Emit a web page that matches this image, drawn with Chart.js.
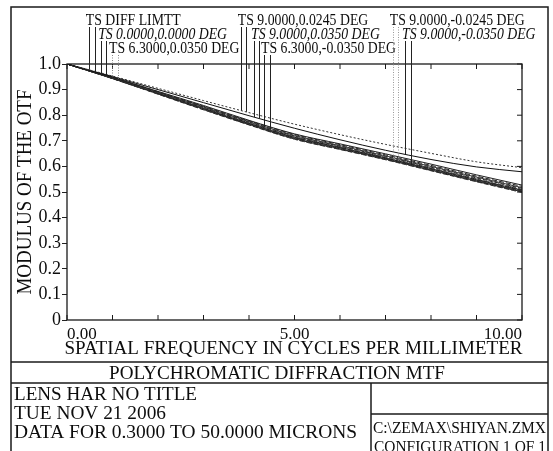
<!DOCTYPE html>
<html>
<head>
<meta charset="utf-8">
<script src="https://cdn.jsdelivr.net/npm/chart.js@4.4.0/dist/chart.umd.min.js"></script>
<style>
  html, body { margin: 0; padding: 0; background: #fff; }
  canvas { display: block; }
</style>
</head>
<body>
<canvas id="mtf" width="553" height="451"></canvas>
<script>
// spatial frequency samples (cycles/mm)
const freq = [0, 1, 2, 3, 4, 5, 6, 7, 8, 9, 10];
const yTicks = [0, 0.1, 0.2, 0.3, 0.4, 0.5, 0.6, 0.7, 0.8, 0.9, 1.0];
const xLabelled = [0, 5, 10];

// MTF values
const diffT = [1, 0.953, 0.905, 0.857, 0.810, 0.765, 0.724, 0.686, 0.651, 0.618, 0.595];
const diffS = [1, 0.951, 0.900, 0.849, 0.798, 0.749, 0.704, 0.663, 0.627, 0.598, 0.579];
const f0T = [1, 0.948, 0.893, 0.838, 0.780, 0.727, 0.688, 0.649, 0.609, 0.567, 0.527];
const f0S = [1, 0.948, 0.892, 0.835, 0.778, 0.725, 0.685, 0.645, 0.604, 0.562, 0.522];
const f1T = [1, 0.947, 0.890, 0.833, 0.775, 0.721, 0.681, 0.641, 0.600, 0.558, 0.517];
const f1S = [1, 0.946, 0.889, 0.831, 0.773, 0.719, 0.679, 0.639, 0.597, 0.555, 0.514];
const f2T = [1, 0.946, 0.888, 0.829, 0.771, 0.717, 0.677, 0.636, 0.594, 0.552, 0.511];
const f2S = [1, 0.945, 0.887, 0.828, 0.770, 0.715, 0.675, 0.635, 0.593, 0.550, 0.509];
const f3T = [1, 0.945, 0.886, 0.827, 0.768, 0.714, 0.674, 0.633, 0.591, 0.548, 0.507];
const f3S = [1, 0.944, 0.885, 0.826, 0.767, 0.712, 0.672, 0.632, 0.589, 0.546, 0.505];
const f4T = [1, 0.944, 0.885, 0.825, 0.766, 0.711, 0.671, 0.631, 0.588, 0.545, 0.504];
const f4S = [1, 0.944, 0.884, 0.824, 0.765, 0.710, 0.670, 0.630, 0.587, 0.544, 0.503];
const f5T = [1, 0.944, 0.884, 0.824, 0.764, 0.709, 0.669, 0.629, 0.586, 0.543, 0.502];
const f5S = [1, 0.943, 0.883, 0.823, 0.764, 0.708, 0.668, 0.628, 0.585, 0.542, 0.501];
const f6T = [1, 0.943, 0.883, 0.822, 0.763, 0.707, 0.667, 0.627, 0.584, 0.541, 0.500];
const f6S = [1, 0.943, 0.882, 0.821, 0.762, 0.706, 0.666, 0.626, 0.583, 0.540, 0.498];

const fieldNames = [
  "TS DIFF LIMTT",
  "TS 0.0000,0.0000 DEG",
  "TS 6.3000,0.0350 DEG",
  "TS 9.0000,0.0245 DEG",
  "TS 9.0000,0.0350 DEG",
  "TS 6.3000,-0.0350 DEG",
  "TS 9.0000,-0.0245 DEG",
  "TS 9.0000,-0.0350 DEG"
];
// frequency where each label's two leaders meet a curve, and which curve
const leaderT = [0.48, 0.75, 0.99, 3.82, 4.11, 4.33, 7.16, 7.43];
const leaderS = [0.62, 0.86, 1.12, 3.93, 4.22, 4.46, 7.27, 7.56];
const leaderCurveT = [0, 2, 4, 0, 1, 6, 8, 1];
const leaderCurveS = [1, 3, 5, 0, 1, 7, 9, 12];

const curves = [diffT, diffS, f0T, f0S, f1T, f1S, f2T, f2S, f3T, f3S, f4T, f4S, f5T, f5S, f6T, f6S];

// --- styles ---
const SERIF = '"Liberation Serif", "Times New Roman", serif';
const INK = "#0d0d0d";
const curveDash = [[2,2], [], [], [5,2], [], [4,2], [2,2], [5,2], [], [4,2], [1,2], [5,2], [], [3,2], [2,2], [5,2]];
const curveColor = ["#333", "#111", "#222", "#222", "#333", "#222", "#555", "#222", "#222", "#333", "#666", "#222", "#222", "#333", "#555", "#222"];
const labelRow = [0, 1, 2, 0, 1, 2, 0, 1];
const labelItalic = [false, true, false, false, true, false, false, true];
const leaderDash = [[], [], [1,1.5], [], [], [], [1,1.5], []];
const leaderColor = ["#222", "#222", "#888", "#222", "#222", "#222", "#999", "#222"];
const rowBase = [25, 39, 53];

function interp(arr, f) {
  for (let i = 0; i < freq.length - 1; i++) {
    if (f >= freq[i] && f <= freq[i+1]) {
      const t = (f - freq[i]) / (freq[i+1] - freq[i]);
      return arr[i] + t * (arr[i+1] - arr[i]);
    }
  }
  return arr[arr.length - 1];
}

function txt(ctx, s, x, y, size, sx, align, italic) {
  ctx.save();
  ctx.font = (italic ? "italic " : "") + size + "px " + SERIF;
  ctx.fillStyle = INK;
  ctx.textAlign = align || "left";
  ctx.textBaseline = "alphabetic";
  ctx.translate(x, y);
  ctx.scale(sx, 1);
  ctx.fillText(s, 0, 0);
  ctx.restore();
}

// squeeze text so it spans the given width
function fitTxt(ctx, s, x, y, size, width, align) {
  ctx.save();
  ctx.font = size + "px " + SERIF;
  const w = ctx.measureText(s).width;
  ctx.restore();
  txt(ctx, s, x, y, size, width / w, align);
}

function line(ctx, x1, y1, x2, y2) {
  ctx.beginPath();
  ctx.moveTo(x1, y1);
  ctx.lineTo(x2, y2);
  ctx.stroke();
}

const zemaxPlugin = {
  id: "zemax",
  beforeDraw(chart) {
    const ctx = chart.ctx;
    ctx.save();
    ctx.fillStyle = "#fff";
    ctx.fillRect(0, 0, chart.width, chart.height);
    ctx.restore();
  },
  afterDraw(chart) {
    const ctx = chart.ctx;
    const a = chart.chartArea;
    const xs = chart.scales.x, ys = chart.scales.y;
    ctx.save();

    // outer frame and info boxes
    ctx.strokeStyle = "#1a1a1a";
    ctx.lineWidth = 1.5;
    ctx.strokeRect(11, 7, 537, 460);
    line(ctx, 11, 362, 548, 362);
    line(ctx, 11, 383, 548, 383);
    line(ctx, 371, 383, 371, 451);
    line(ctx, 371, 414, 548, 414);

    // plot box
    ctx.lineWidth = 1.3;
    ctx.strokeRect(a.left, a.top, a.right - a.left, a.bottom - a.top);

    // inward ticks: top / bottom / right
    ctx.lineWidth = 1;
    xs.ticks.forEach(t => {
      const px = xs.getPixelForValue(t.value);
      line(ctx, px, a.bottom, px, a.bottom - 5);
      line(ctx, px, a.top, px, a.top + 5);
    });
    ys.ticks.forEach(t => {
      const py = ys.getPixelForValue(t.value);
      line(ctx, a.right, py, a.right - 5, py);
    });

    // field labels with leader lines
    fieldNames.forEach((name, i) => {
      const base = rowBase[labelRow[i]];
      const xT = xs.getPixelForValue(leaderT[i]);
      const xS = xs.getPixelForValue(leaderS[i]);
      txt(ctx, name, xT - 3, base, 17, 0.81, "left", labelItalic[i]);
      ctx.strokeStyle = leaderColor[i];
      ctx.setLineDash(leaderDash[i]);
      ctx.lineWidth = 1;
      [[xT, leaderT[i], curves[leaderCurveT[i]]], [xS, leaderS[i], curves[leaderCurveS[i]]]].forEach(([px, f, arr]) => {
        const py = ys.getPixelForValue(interp(arr, f));
        line(ctx, Math.round(px) + 0.5, base + 2, Math.round(px) + 0.5, py);
      });
      ctx.setLineDash([]);
    });

    // axis titles
    ctx.save();
    ctx.translate(31, (a.top + a.bottom) / 2);
    ctx.rotate(-Math.PI / 2);
    fitTxt(ctx, "MODULUS OF THE OTF", 0, 0, 21, 205, "center");
    ctx.restore();
    fitTxt(ctx, "SPATIAL FREQUENCY IN CYCLES PER MILLIMETER", (a.left + a.right) / 2 - 1, 354, 18, 458, "center");

    // info block
    fitTxt(ctx, "POLYCHROMATIC DIFFRACTION MTF", 277, 379, 18, 336, "center");
    fitTxt(ctx, "LENS HAR NO TITLE", 14, 400, 18, 183, "left");
    fitTxt(ctx, "TUE NOV 21 2006", 14, 419, 18, 152, "left");
    fitTxt(ctx, "DATA FOR 0.3000 TO 50.0000 MICRONS", 14, 438, 18, 343, "left");
    fitTxt(ctx, "C:\\ZEMAX\\SHIYAN.ZMX", 373, 433, 17, 173, "left");
    fitTxt(ctx, "CONFIGURATION 1 OF 1", 374, 452, 17, 172, "left");

    ctx.restore();
  }
};

const datasets = curves.map((arr, i) => ({
  label: "curve " + i,
  data: freq.map((f, j) => ({ x: f, y: arr[j] })),
  borderColor: curveColor[i],
  borderDash: curveDash[i],
  borderWidth: 1,
  pointRadius: 0,
  fill: false,
  cubicInterpolationMode: "monotone"
}));

new Chart(document.getElementById("mtf"), {
  type: "line",
  data: { datasets },
  options: {
    responsive: false,
    animation: false,
    devicePixelRatio: 1,
    layout: { padding: { left: 10, top: 64, right: 31, bottom: 91 } },
    plugins: { legend: { display: false }, tooltip: { enabled: false } },
    scales: {
      x: {
        type: "linear",
        min: 0, max: 10,
        afterFit(scale) { scale.height = 40; },
        afterBuildTicks(scale) { scale.ticks = freq.map(v => ({ value: v })); },
        grid: { display: true, drawOnChartArea: false, drawTicks: false },
        border: { display: false },
        ticks: {
          autoSkip: false, maxRotation: 0, align: "inner", padding: 4,
          color: INK, font: { family: SERIF, size: 17 },
          callback: v => xLabelled.includes(v) ? v.toFixed(2) : ""
        }
      },
      y: {
        min: 0, max: 1,
        afterFit(scale) { scale.width = 57; },
        afterBuildTicks(scale) { scale.ticks = yTicks.map(v => ({ value: v })); },
        grid: { drawOnChartArea: false, drawTicks: true, tickLength: 5, color: "#222" },
        border: { display: false },
        ticks: {
          autoSkip: false, padding: 1,
          color: INK, font: { family: SERIF, size: 18 },
          callback: v => v === 0 ? "0" : v.toFixed(1)
        }
      }
    }
  },
  plugins: [zemaxPlugin]
});
</script>
</body>
</html>
